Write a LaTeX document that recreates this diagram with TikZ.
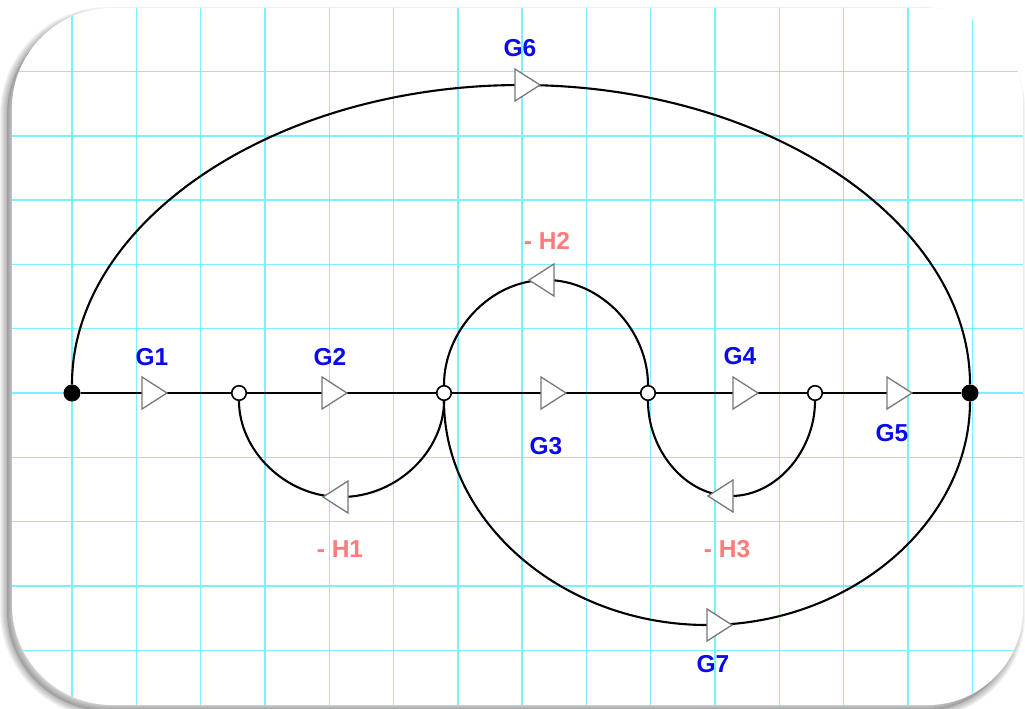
\documentclass[tikz,border=0pt]{standalone}
\usepackage{fontspec}
\setmainfont{Liberation Sans}
\definecolor{gridc}{RGB}{120,242,252}
\definecolor{gblue}{RGB}{10,10,235}
\definecolor{hred}{RGB}{255,122,122}
\definecolor{trig}{RGB}{120,120,120}
\tikzset{
  wire/.style={line width=2.1pt, black},
  opennode/.style={circle, draw=black, line width=1.6pt, fill=white, minimum size=14.5pt, inner sep=0pt},
  endnode/.style={circle, fill=black, minimum size=17pt, inner sep=0pt},
  glab/.style={text=gblue, font=\fontsize{24.5}{29}\selectfont\bfseries, inner sep=0pt},
  hlab/.style={text=hred, font=\fontsize{24.5}{29}\selectfont\bfseries, inner sep=0pt},
  tribox/.style={draw=trig, fill=white, line width=1.3pt, line join=miter},
  gridline/.style={gridc, line width=1.4pt},
  gtri/.pic={\path[tribox] (0,-16) -- (25,0) -- (0,16) -- cycle;}
}
\def\cardpath{(12,108) .. controls (12,53) and (57,8) .. (112,8) -- (928,8) .. controls (980,8) and (1023,51) .. (1023,103) -- (1023,610) .. controls (1023,662) and (980,705) .. (928,705) -- (112,705) .. controls (57,705) and (12,660) .. (12,605) -- cycle}
\begin{document}
\begin{tikzpicture}[x=1pt,y=-1pt]
\useasboundingbox (0,0) rectangle (1025,709);
% shadow
\foreach \e in {14,12,...,2}
  \draw[black, opacity=0.045, line width=\e pt, line join=round, xshift=-5pt, yshift=-6pt] \cardpath;
\fill[black, opacity=0.15, xshift=-5pt, yshift=-6pt] \cardpath;
% card
\fill[white] \cardpath;
\begin{scope}
  \clip \cardpath;
  \foreach \k in {0,...,14} \draw[gridline] ({72+64.3*\k},0) -- ++(0,709);
  \foreach \k in {-6,...,4} \draw[gridline] (0,{393+64.3*\k}) -- ++(1025,0);
\end{scope}
% nodes
\node[endnode] (s) at (72,393) {};
\node[opennode] (a) at (239,393) {};
\node[opennode] (b) at (444,393) {};
\node[opennode] (c) at (648,393) {};
\node[opennode] (d) at (815,393) {};
\node[endnode] (t) at (970,393) {};
% forward branches
\draw[wire] (s) -- (a);
\draw[wire] (a) -- (b);
\draw[wire] (b) -- (c);
\draw[wire] (c) -- (d);
\draw[wire] (d) -- (t);
% G6
\draw[wire] (s) .. controls (72,223) and (273,85) .. (521,85) .. controls (769,85) and (970,223) .. (t);
% G7
\draw[wire] (b) .. controls (444,521) and (562,625) .. (707,625) .. controls (852,625) and (970,521) .. (t);
% -H2
\draw[wire] (c) .. controls (648,331) and (602,280) .. (546,280) .. controls (490,280) and (444,331) .. (b);
% -H1
\draw[wire] (b) .. controls (444,450) and (398,497) .. (341,497) .. controls (285,497) and (239,450) .. (a);
% -H3
\draw[wire] (d) .. controls (815,450) and (777,496) .. (731,496) .. controls (685,496) and (648,450) .. (c);
% arrow triangles
\pic at (142,393) {gtri};
\pic at (322,393) {gtri};
\pic at (541,393) {gtri};
\pic at (733,393) {gtri};
\pic at (887,393) {gtri};
\pic at (515,85) {gtri};
\pic at (707,625) {gtri};
\pic[rotate=180] at (554,280) {gtri};
\pic[rotate=180] at (348,497) {gtri};
\pic[rotate=180] at (733,496) {gtri};
% labels
\node[glab] (lg1) at (152,357) {G1};
\node[glab] (lg2) at (330,357) {G2};
\node[glab] (lg3) at (546,446) {G3};
\node[glab] (lg4) at (740,356) {G4};
\node[glab] (lg5) at (892,433) {G5};
\node[glab] (lg6) at (520,48) {G6};
\node[glab] (lg7) at (713,664) {G7};
\node[hlab] (lh1) at (340,549) {- H1};
\node[hlab] (lh2) at (547,241) {- H2};
\node[hlab] (lh3) at (727,549) {- H3};
\end{tikzpicture}
\end{document}
